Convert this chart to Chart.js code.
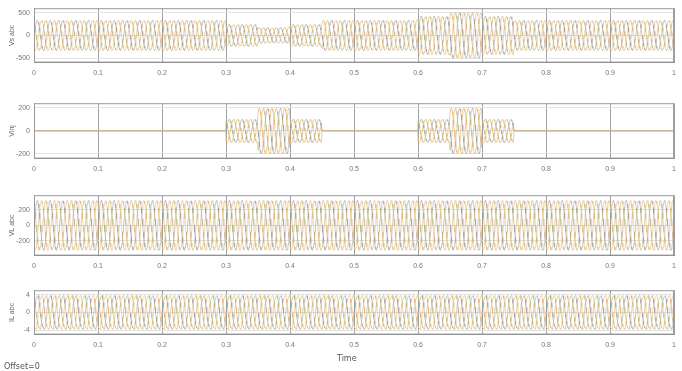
<!DOCTYPE html>
<html lang="en">

<head>
    <meta charset="UTF-8">
    <title>Scope</title>
    <script src="https://cdn.jsdelivr.net/npm/chart.js@4.4.1/dist/chart.umd.min.js"></script>
    <style>
        body {
            margin: 0;
            width: 682px;
            height: 371px;
            background: #fff;
            font-family: "DejaVu Sans", Arial, sans-serif;
            position: relative;
            overflow: hidden;
        }

        .panel {
            position: absolute;
            left: 0;
            width: 682px;
            filter: blur(0.5px);
        }

        .note {
            position: absolute;
            font-size: 8px;
            color: #555;
            filter: blur(0.4px);
        }
    </style>
</head>

<body>
    <div class="panel" style="top:0;height:86px"><canvas id="vs"></canvas></div>
    <div class="panel" style="top:95px;height:87px"><canvas id="vinj"></canvas></div>
    <div class="panel" style="top:187px;height:92px"><canvas id="vl"></canvas></div>
    <div class="panel" style="top:282px;height:76px"><canvas id="il"></canvas></div>
    <div class="note" style="left:337px;top:354px">Time</div>
    <div class="note" style="left:4px;top:362px">Offset=0</div>

    <script>
        // time axis
        const xTicks = [0, 0.1, 0.2, 0.3, 0.4, 0.5, 0.6, 0.7, 0.8, 0.9, 1];
        const cycles = 50;

        // one cycle of the phase-a waveform (per unit)
        const sineCycle = [0, 0.26, 0.5, 0.71, 0.87, 0.97, 1, 0.97, 0.87, 0.71, 0.5, 0.26,
            0, -0.26, -0.5, -0.71, -0.87, -0.97, -1, -0.97, -0.87, -0.71, -0.5, -0.26];
        const loadCycle = [0.05, 0.3, 0.52, 0.7, 0.82, 0.9, 0.95, 0.98, 1, 0.8, 0.55, 0.3,
            -0.05, -0.3, -0.52, -0.7, -0.82, -0.9, -0.95, -0.98, -1, -0.8, -0.55, -0.3];
        const phaseShift = [0, 8, 16];

        // envelope per time segment
        const segEdges = [0, 0.3, 0.35, 0.4, 0.45, 0.6, 0.65, 0.7, 0.75, 1.0001];
        const vsAmp = [330, 240, 170, 240, 330, 420, 500, 420, 330];
        const vinjAmp = [0, 100, 195, 100, 0, 100, 195, 100, 0];
        const vlAmp = [320, 320, 320, 320, 320, 320, 320, 320, 320];
        const ilAmp = [3.8, 3.8, 3.8, 3.8, 3.8, 3.8, 3.8, 3.8, 3.8];

        const phaseColors = ['rgba(150,150,150,0.5)', 'rgba(200,185,110,0.6)', 'rgba(235,175,110,0.55)'];

        function ampAt(amps, t) {
            for (let i = 0; i < amps.length; i++) {
                if (t >= segEdges[i] && t < segEdges[i + 1]) return amps[i];
            }
            return amps[amps.length - 1];
        }

        function phaseSeries(shape, amps, shift) {
            const n = shape.length;
            const pts = [];
            for (let c = 0; c < cycles; c++) {
                for (let k = 0; k < n; k++) {
                    const t = (c * n + k) / (cycles * n);
                    pts.push({ x: t, y: ampAt(amps, t) * shape[(k + shift) % n] });
                }
            }
            return pts;
        }

        function threePhase(shape, amps) {
            return phaseShift.map((s, i) => ({
                data: phaseSeries(shape, amps, s),
                borderColor: phaseColors[i],
                borderWidth: 1,
                pointRadius: 0,
                tension: 0
            }));
        }

        function makeScope(id, datasets, yMin, yMax, yTicks, yTitle) {
            new Chart(document.getElementById(id), {
                type: 'line',
                data: { datasets: datasets },
                options: {
                    responsive: true,
                    maintainAspectRatio: false,
                    animation: false,
                    events: [],
                    layout: { padding: { top: 6, right: 3, bottom: 3, left: 0 } },
                    plugins: { legend: { display: false }, tooltip: { enabled: false } },
                    scales: {
                        x: {
                            type: 'linear',
                            min: 0,
                            max: 1,
                            afterBuildTicks: s => { s.ticks = xTicks.map(v => ({ value: v })); },
                            ticks: {
                                font: { size: 7 },
                                color: '#777',
                                padding: 6,
                                maxRotation: 0,
                                callback: v => String(Math.round(v * 10) / 10)
                            },
                            grid: { color: '#a0a0a0', drawTicks: false },
                            border: { color: '#888' }
                        },
                        y: {
                            min: yMin,
                            max: yMax,
                            afterBuildTicks: s => { s.ticks = yTicks.map(v => ({ value: v })); },
                            afterFit: s => { s.width = 34; },
                            ticks: { font: { size: 7 }, color: '#777', padding: 4 },
                            grid: { color: '#e2e2e2', drawTicks: false },
                            border: { color: '#888' },
                            title: { display: true, text: yTitle, font: { size: 7 }, color: '#666', padding: { top: 8, bottom: 0 } }
                        }
                    }
                },
                plugins: [{
                    id: 'frame',
                    afterDraw(chart) {
                        const a = chart.chartArea, c = chart.ctx;
                        c.save();
                        c.strokeStyle = '#999';
                        c.lineWidth = 1;
                        c.strokeRect(a.left + 0.5, a.top + 0.5, a.right - a.left - 1, a.bottom - a.top - 1);
                        c.restore();
                    }
                }]
            });
        }

        const vinjSets = threePhase(sineCycle, vinjAmp);
        vinjSets[2].borderColor = 'rgba(240,190,120,0.8)';

        makeScope('vs', threePhase(sineCycle, vsAmp), -600, 600, [-500, 0, 500], 'Vs abc');
        makeScope('vinj', vinjSets, -240, 240, [-200, 0, 200], 'Vinj');
        makeScope('vl', threePhase(sineCycle, vlAmp), -390, 390, [-200, 0, 200], 'VL abc');
        makeScope('il', threePhase(loadCycle, ilAmp), -5, 5, [-4, -2, 0, 2, 4], 'IL abc');
    </script>
</body>

</html>
